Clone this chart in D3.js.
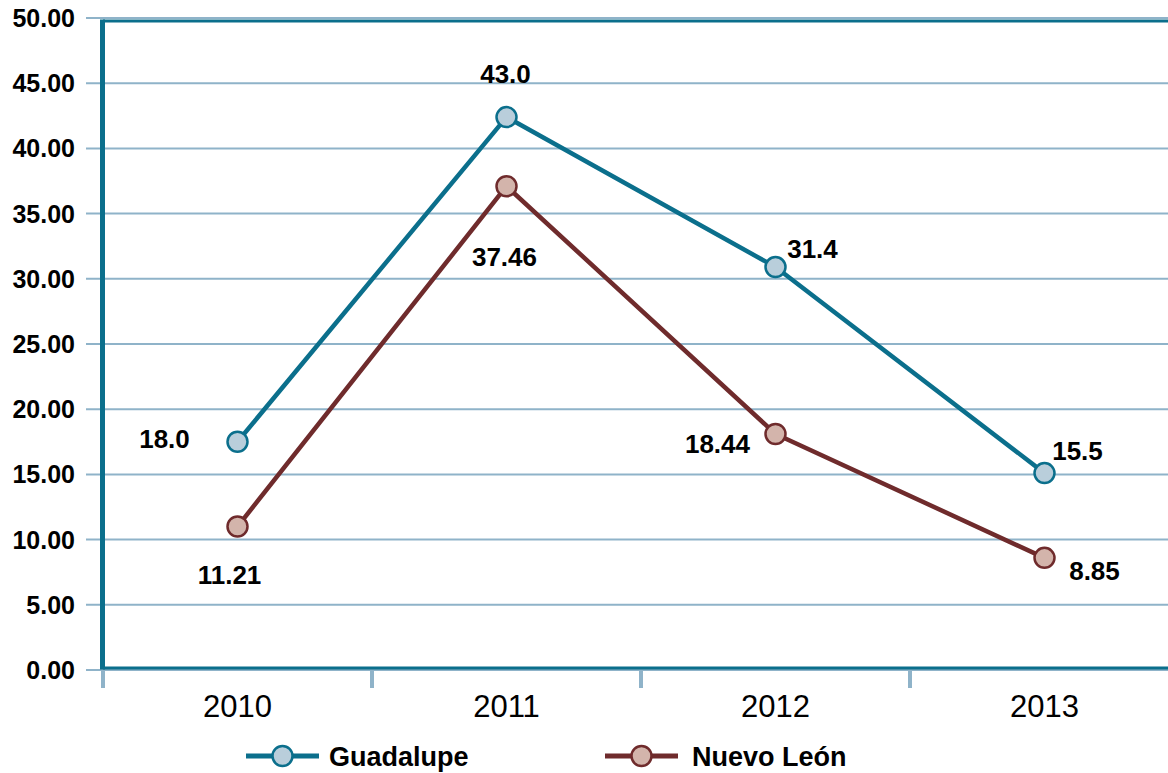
<!DOCTYPE html>
<html>
<head>
<meta charset="utf-8">
<script src="https://cdn.jsdelivr.net/npm/d3@7"></script>
<style>
	body { margin: 0; background: #fff; }
	svg { display: block; font-family: 'Liberation Sans', Arial, sans-serif; }
</style>
</head>
<body>
<div id="chartContainer"></div>
<script>
// Chart data
var years = ['2010', '2011', '2012', '2013'];
var guadalupe = [17.5, 42.4, 30.9, 15.1];
var nuevoLeon = [11.0, 37.1, 18.1, 8.6];
var guadalupeLabels = ['18.0', '43.0', '31.4', '15.5'];
var nuevoLeonLabels = ['11.21', '37.46', '18.44', '8.85'];
var yTicks = [0, 5, 10, 15, 20, 25, 30, 35, 40, 45, 50];
var seriesNames = ['Guadalupe', 'Nuevo León'];

/***********************************************************
  Start: Initialization Variables
***********************************************************/
var width = 1168;
var height = 773;
var colors = {
	guadalupe: { line: '#0b6f8c', fill: '#b9cedb' },
	nuevoLeon: { line: '#6f2b2c', fill: '#d3b4ab' },
	grid: '#8fb3c9',
	frame: '#0b6f8c'
};
// label nudges [dx, dy] from each point, per series
var guadalupeNudge = [[-73, -3], [-1, -43], [37, -18], [33, -22]];
var nuevoLeonNudge = [[-8, 48], [-2, 70], [-58, 10], [50, 13]];
/***********************************************************
  End: Initialization Variables
***********************************************************/

var svg = d3.select('#chartContainer')
	.append('svg')
	.attr('width', width)
	.attr('height', height);

/***********************************************************
  Start: Scales
***********************************************************/
var y = d3.scaleLinear().domain([0, 50]).range([670, 18]);
var x = d3.scaleBand().domain(years).range([103, 1179]).padding(0);
var cx = function(d) { return x(d) + x.bandwidth() / 2; };
/***********************************************************
  End: Scales
***********************************************************/

// Horizontal grid lines
svg.append('g')
	.selectAll('line')
	.data(yTicks)
	.enter()
	.append('line')
	.attr('x1', 86)
	.attr('x2', width)
	.attr('y1', function(d) { return y(d); })
	.attr('y2', function(d) { return y(d); })
	.attr('stroke', colors.grid)
	.attr('stroke-width', 2);

// Y tick labels
svg.append('g')
	.selectAll('text')
	.data(yTicks)
	.enter()
	.append('text')
	.text(function(d) { return d.toFixed(2); })
	.attr('x', 75)
	.attr('y', function(d) { return y(d); })
	.attr('dy', '0.36em')
	.style('text-anchor', 'end')
	.style('font-weight', 'bold')
	.style('font-size', '25px')
	.attr('fill', '#000');

// X ticks at band boundaries
svg.append('g')
	.selectAll('line')
	.data(years)
	.enter()
	.append('line')
	.attr('x1', function(d) { return x(d); })
	.attr('x2', function(d) { return x(d); })
	.attr('y1', 670)
	.attr('y2', 688)
	.attr('stroke', colors.grid)
	.attr('stroke-width', 4);

// X labels
svg.append('g')
	.selectAll('text')
	.data(years)
	.enter()
	.append('text')
	.text(function(d) { return d; })
	.attr('x', cx)
	.attr('y', 717)
	.style('text-anchor', 'middle')
	.style('font-size', '31px')
	.attr('fill', '#000');

/***********************************************************
  Start: Plot Frame
***********************************************************/
svg.append('line')
	.attr('x1', 103).attr('x2', width)
	.attr('y1', 21).attr('y2', 21)
	.attr('stroke', colors.frame).attr('stroke-width', 3);
svg.append('line')
	.attr('x1', 103).attr('x2', width)
	.attr('y1', 668).attr('y2', 668)
	.attr('stroke', colors.frame).attr('stroke-width', 3);
svg.append('line')
	.attr('x1', 102.5).attr('x2', 102.5)
	.attr('y1', 19.5).attr('y2', 669.5)
	.attr('stroke', colors.frame).attr('stroke-width', 5);
/***********************************************************
  End: Plot Frame
***********************************************************/

/***********************************************************
  Start: Series Lines, Markers and Value Labels
***********************************************************/
var line = d3.line()
	.x(function(d, i) { return cx(years[i]); })
	.y(function(d) { return y(d); });

function drawSeries(values, labels, nudge, col) {
	svg.append('path')
		.datum(values)
		.attr('d', line)
		.attr('fill', 'none')
		.attr('stroke', col.line)
		.attr('stroke-width', 4.5)
		.attr('stroke-linejoin', 'round');

	svg.append('g')
		.selectAll('circle')
		.data(values)
		.enter()
		.append('circle')
		.attr('cx', function(d, i) { return cx(years[i]); })
		.attr('cy', function(d) { return y(d); })
		.attr('r', 10)
		.attr('fill', col.fill)
		.attr('stroke', col.line)
		.attr('stroke-width', 2.5);

	svg.append('g')
		.selectAll('text')
		.data(values)
		.enter()
		.append('text')
		.text(function(d, i) { return labels[i]; })
		.attr('x', function(d, i) { return cx(years[i]) + nudge[i][0]; })
		.attr('y', function(d, i) { return y(d) + nudge[i][1]; })
		.attr('dy', '0.36em')
		.style('text-anchor', 'middle')
		.style('font-weight', 'bold')
		.style('font-size', '26px')
		.attr('fill', '#000');
}

drawSeries(guadalupe, guadalupeLabels, guadalupeNudge, colors.guadalupe);
drawSeries(nuevoLeon, nuevoLeonLabels, nuevoLeonNudge, colors.nuevoLeon);
/***********************************************************
  End: Series Lines, Markers and Value Labels
***********************************************************/

/***********************************************************
  Start: Legend
***********************************************************/
var legendX = d3.scaleOrdinal().domain(seriesNames).range([246, 605]);
var legendCols = [colors.guadalupe, colors.nuevoLeon];
seriesNames.forEach(function(name, i) {
	var lx = legendX(name);
	var g = svg.append('g').attr('transform', 'translate(' + lx + ',' + 756 + ')');
	g.append('line')
		.attr('x1', 0).attr('x2', 73)
		.attr('y1', 0).attr('y2', 0)
		.attr('stroke', legendCols[i].line)
		.attr('stroke-width', 5);
	g.append('circle')
		.attr('cx', 36.5).attr('cy', 0)
		.attr('r', 10)
		.attr('fill', legendCols[i].fill)
		.attr('stroke', legendCols[i].line)
		.attr('stroke-width', 2.5);
	g.append('text')
		.text(name)
		.attr('x', 83 + i * 4)
		.attr('y', 0)
		.attr('dy', '0.36em')
		.style('font-weight', 'bold')
		.style('font-size', '27px')
		.attr('fill', '#000');
});
/***********************************************************
  End: Legend
***********************************************************/
</script>
</body>
</html>
